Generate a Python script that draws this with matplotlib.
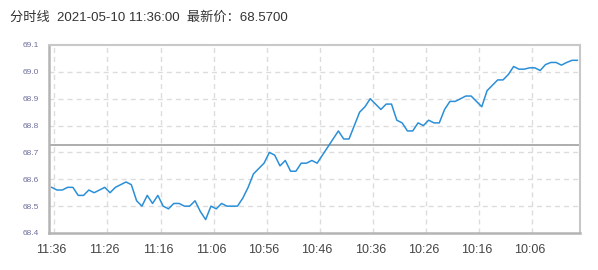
import matplotlib
matplotlib.use("Agg")
import matplotlib.pyplot as plt
import numpy as np

# --- Datos (precio por minuto, de 11:36 hacia atras) ---
precios = [
    68.57, 68.56, 68.56, 68.57, 68.57, 68.54, 68.54, 68.56, 68.55, 68.56,
    68.57, 68.55, 68.57, 68.58, 68.59, 68.58, 68.52, 68.50, 68.54, 68.51,
    68.54, 68.50, 68.49, 68.51, 68.51, 68.50, 68.50, 68.52, 68.48, 68.45,
    68.50, 68.49, 68.51, 68.50, 68.50, 68.50, 68.53, 68.57, 68.62, 68.64,
    68.66, 68.70, 68.69, 68.65, 68.67, 68.63, 68.63, 68.66, 68.66, 68.67,
    68.66, 68.69, 68.72, 68.75, 68.78, 68.75, 68.75, 68.80, 68.85, 68.87,
    68.90, 68.88, 68.86, 68.88, 68.88, 68.82, 68.81, 68.78, 68.78, 68.81,
    68.80, 68.82, 68.81, 68.81, 68.86, 68.89, 68.89, 68.90, 68.91, 68.91,
    68.89, 68.87, 68.93, 68.95, 68.97, 68.97, 68.99, 69.02, 69.01, 69.01,
    69.015, 69.015, 69.005, 69.027, 69.035, 69.035, 69.025, 69.035, 69.043, 69.043,
]
etiquetas_x = ["11:36", "11:26", "11:16", "11:06", "10:56",
               "10:46", "10:36", "10:26", "10:16", "10:06"]
ticks_y = [68.4, 68.5, 68.6, 68.7, 68.8, 68.9, 69.0, 69.1]
cierre_anterior = 68.727
titulo = "分时线  2021-05-10 11:36:00  最新价：68.5700"

fig = plt.figure(figsize=(5.98, 2.70), dpi=100)
ax = fig.add_axes([49 / 598, 1 - 233 / 270, 531 / 598, 188 / 270])

x = np.arange(len(precios))
pos_etiquetas = x[::10]

# --- Grilla punteada ---
for p in pos_etiquetas:
    ax.axvline(p + 0.5, color="#dcdcdc", lw=1, dashes=(3.6, 2.9), zorder=0)
for v in ticks_y[1:-1]:
    ax.axhline(v, color="#dcdcdc", lw=1, dashes=(3.6, 2.9), zorder=0)

ax.axhline(cierre_anterior, color="#a0a0a0", lw=1.2, zorder=1)
ax.plot(x, precios, color="#2b8fd8", lw=1.1, zorder=2)

ax.set_xlim(-0.5, len(precios) - 0.5)
ax.set_ylim(68.4, 69.1)
ax.set_xticks(pos_etiquetas)
ax.set_xticklabels(etiquetas_x, fontsize=9, color="#444444", family="Liberation Sans")
ax.set_yticks(ticks_y)
ax.set_yticklabels([f"{v:.1f}" for v in ticks_y], fontsize=6, color="#6f6f9f",
                   family="Liberation Sans")
ax.tick_params(axis="both", length=0)
ax.tick_params(axis="x", pad=8)
ax.tick_params(axis="y", pad=7)

for lado in ["top", "right"]:
    ax.spines[lado].set_color("#c8c8c8")
    ax.spines[lado].set_linewidth(1.5)
for lado in ["left", "bottom"]:
    ax.spines[lado].set_color("#b4b4b4")
    ax.spines[lado].set_linewidth(1.8)

fig.text(10 / 598, 1 - 18 / 270, titulo, fontsize=9.5, color="#333333",
         family=["Liberation Sans", "Noto Sans CJK SC"], va="center", ha="left")

fig.savefig("out.png", dpi=100)
